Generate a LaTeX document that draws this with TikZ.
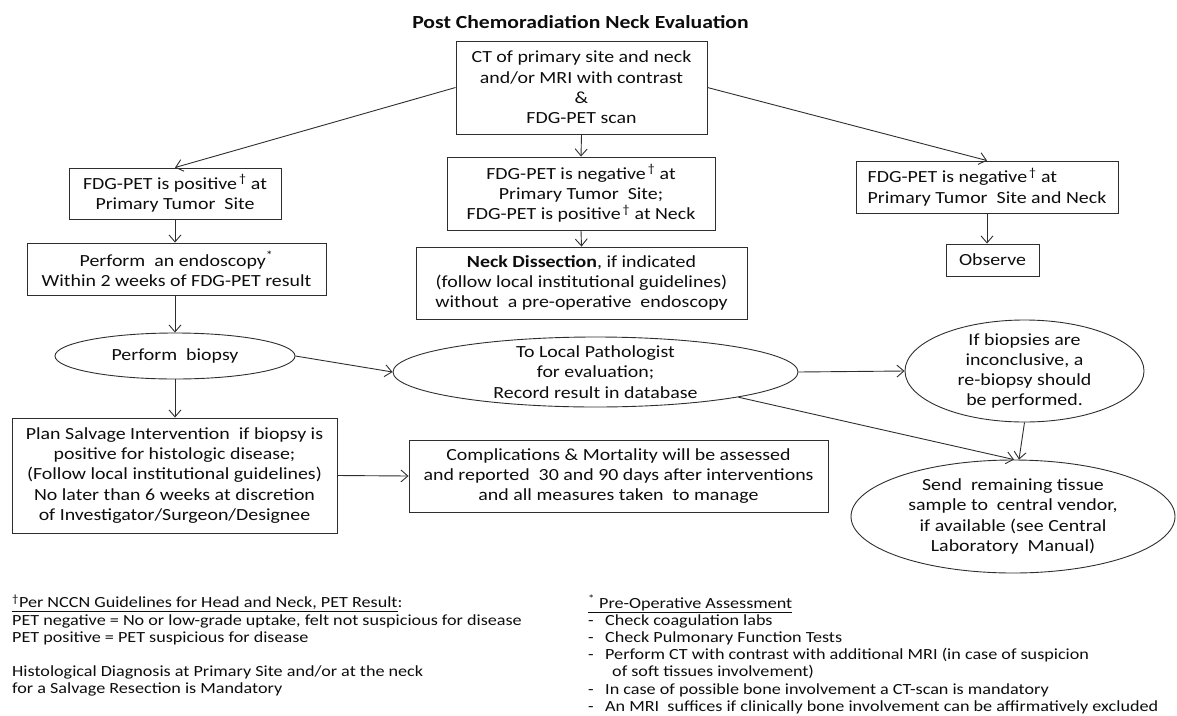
\documentclass[tikz,border=0pt]{standalone}
\usepackage{fontspec}
\setmainfont{Carlito}[FakeStretch=1.17]
\usetikzlibrary{shapes.geometric,arrows.meta}
\newcommand\bdfont{\fontsize{17}{20.3}\selectfont}
\newcommand\ntfont{\fontsize{15.5}{17.2}\selectfont}
\newcommand\dg{\textsuperscript{\,†}}
\begin{document}
\begin{tikzpicture}[x=1pt,y=-1pt,
  every node/.style={inner sep=0pt, text=black!95},
  box/.style={draw=black!82, line width=0.9pt, rectangle, align=center, font=\bdfont},
  oval/.style={draw=black!82, line width=0.9pt, ellipse},
  txt/.style={align=center, font=\bdfont},
  arr/.style={draw=black!82, line width=0.9pt, -{Straight Barb[length=7pt,width=12pt]}},
  note/.style={align=left, anchor=north west, font=\ntfont}
]
\useasboundingbox (0,0) rectangle (1177,715);

\node[font=\fontsize{18.5}{22}\selectfont\bfseries] (title) at (580.5,22) {Post Chemoradiation Neck Evaluation};

\node[box, minimum width=251pt, minimum height=93pt] (top) at (581.5,87.5)
  {CT of primary site and neck\\ and/or MRI with contrast\\ \&\\ FDG-PET scan};
\node[box, minimum width=212pt, minimum height=51pt] (left) at (175,193.5)
  {FDG-PET is positive\dg{} at\\ Primary Tumor\ \ Site};
\node[box, minimum width=268pt, minimum height=73pt] (mid) at (581,193.5)
  {FDG-PET is negative\dg{} at\\ Primary Tumor\ \ Site;\\ FDG-PET is positive\dg{} at Neck};
\node[box, align=left, minimum width=262pt, minimum height=52pt] (right) at (987,187)
  {FDG-PET is negative\dg{} at\\ Primary Tumor\ \ Site and Neck};
\node[box, minimum width=93pt, minimum height=32pt] (observe) at (992.5,260) {Observe};
\node[box, minimum width=299pt, minimum height=52pt] (endo) at (176.5,269)
  {Perform\ \ an endoscopy\textsuperscript{*}\\ Within 2 weeks of FDG-PET result};
\node[box, minimum width=331pt, minimum height=72pt] (neck) at (581.5,283)
  {\textbf{Neck Dissection}, if indicated\\ (follow local institutional guidelines)\\ without\ \ a pre-operative\ \ endoscopy};

\node[oval, minimum width=240pt, minimum height=46pt] (biopsy) at (175,356) {};
\node[txt] (biopsytxt) at (biopsy.center) {Perform\ \ biopsy};
\node[oval, minimum width=405pt, minimum height=70pt] (path) at (595.5,372) {};
\node[txt] (pathtxt) at (path.center) {To Local Pathologist\\ for evaluation;\\ Record result in database};
\node[oval, minimum width=239pt, minimum height=102pt] (incon) at (1024.5,371) {};
\node[txt] (incontxt) at (incon.center) {If biopsies are\\ inconclusive, a\\ re-biopsy should\\ be performed.};

\node[box, minimum width=325pt, minimum height=115pt] (plan) at (174.5,475.5)
  {Plan Salvage Intervention\ \ if biopsy is\\ positive for histologic disease;\\ (Follow local institutional guidelines)\\ No later than 6 weeks at discretion\\ of Investigator/Surgeon/Designee};
\node[box, minimum width=419pt, minimum height=72pt] (comp) at (618.5,476)
  {Complications \& Mortality will be assessed\\ and reported\ \ 30 and 90 days after interventions\\ and all measures taken\ \ to manage};
\node[oval, minimum width=324pt, minimum height=113pt] (send) at (1013,516.5) {};
\node[txt] (sendtxt) at (send.center) {Send\ \ remaining tissue\\ sample to\ \ central vendor,\\ if available (see Central\\ Laboratory\ \ Manual)};

\draw[arr] (top.west) -- (left.north);
\draw[arr] (top.east) -- (right.north);
\draw[arr] (top.south) -- (mid.north);
\draw[arr] (mid.south) -- (neck.north);
\draw[arr] (left.south) -- (left.south |- endo.north);
\draw[arr] (right.south) -- (right.south |- observe.north);
\draw[arr] (biopsy.north |- endo.south) -- (biopsy.north);
\draw[arr] (biopsy.south) -- (biopsy.south |- plan.north);
\draw[arr] (biopsy.east) -- (path.west);
\draw[arr] (path.east) -- (incon.west);
\draw[arr] (plan.east) -- (comp.west);
\draw[arr] (incon.south) -- (send.84);
\draw[arr] (path.-10) -- (send.89);

\node[note] (notea) at (12,595)
  {\underline{\textsuperscript{†}Per NCCN Guidelines for Head and Neck, PET Result}:\\
   PET negative = No or low-grade uptake, felt not suspicious for disease\\
   PET positive = PET suspicious for disease\\[17.2pt]
   Histological Diagnosis at Primary Site and/or at the neck\\
   for a Salvage Resection is Mandatory};
\node[note] (noteb) at (588,595)
  {\underline{\textsuperscript{*} Pre-Operative Assessment}\\
   \makebox[17pt][l]{-}Check coagulation labs\\
   \makebox[17pt][l]{-}Check Pulmonary Function Tests\\
   \makebox[17pt][l]{-}Perform CT with contrast with additional MRI (in case of suspicion\\
   \hspace*{24pt}of soft tissues involvement)\\
   \makebox[17pt][l]{-}In case of possible bone involvement a CT-scan is mandatory\\
   \makebox[17pt][l]{-}An MRI\ \ suffices if clinically bone involvement can be affirmatively excluded};
\end{tikzpicture}
\end{document}
